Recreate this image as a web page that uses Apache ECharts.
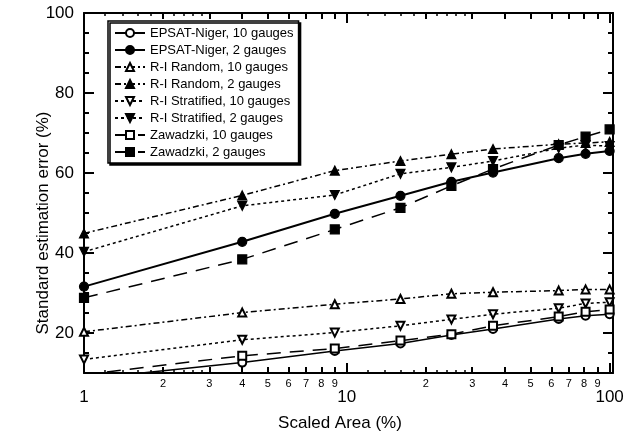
<!DOCTYPE html>
<html>
<head>
<meta charset="utf-8">
<script src="https://cdn.jsdelivr.net/npm/echarts@6/dist/echarts.min.js"></script>
<style>
  html, body { margin: 0; padding: 0; background: #fff; }
  #chart { width: 632px; height: 433px; }
</style>
</head>
<body>
<div id="chart"></div>
<script>
// scaled area (%) of every sample
var areas = [1, 4, 9, 16, 25, 36, 64, 81, 100]

// standard estimation error (%) per method
var epsat10 = [8.5, 12.6, 15.5, 17.4, 19.5, 21.0, 23.5, 24.3, 24.7]
var epsat2 = [31.6, 42.8, 49.8, 54.3, 57.8, 60.1, 63.7, 64.8, 65.5]
var random10 = [20.3, 25.1, 27.2, 28.5, 29.8, 30.2, 30.6, 30.9, 30.9]
var random2 = [44.9, 54.4, 60.6, 63.0, 64.7, 66.0, 67.2, 67.5, 67.8]
var strat10 = [13.4, 18.3, 20.1, 21.8, 23.4, 24.7, 26.2, 27.4, 27.7]
var strat2 = [40.3, 51.8, 54.5, 59.8, 61.4, 63.0, 66.2, 67.0, 66.7]
var zaw10 = [9.6, 14.3, 16.1, 18.1, 19.7, 21.8, 24.1, 25.3, 25.9]
var zaw2 = [28.8, 38.4, 45.9, 51.3, 56.8, 61.0, 67.0, 69.1, 70.9]

// ticks
var xMajorTicks = [1, 10, 100]
var xDigitTicks = [2, 3, 4, 5, 6, 7, 8, 9, 20, 30, 40, 50, 60, 70, 80, 90]
var xTinyTicks = [1.2, 1.4, 1.6, 1.8, 2.2, 2.4, 2.6, 2.8, 12, 14, 16, 18, 22, 24, 26, 28]
var yMajorTicks = [20, 40, 60, 80, 100]
var yMinorTicks = [15, 25, 30, 35, 45, 50, 55, 65, 70, 75, 85, 90, 95]

var FONT = '"Liberation Sans", Arial, Helvetica, sans-serif'

function pairs(ys) {
  return areas.map(function (a, i) { return [a, ys[i]] })
}

function line(name, ys, symbol, rotate, dash, size, width) {
  return {
    name: name,
    type: 'line',
    data: pairs(ys),
    symbol: symbol,
    symbolRotate: rotate,
    symbolSize: size,
    clip: true,
    xAxisIndex: 0,
    yAxisIndex: 0,
    lineStyle: { color: '#000', width: width, type: dash },
    itemStyle: { color: '#000', borderColor: '#000', borderWidth: 1.2 },
    emphasis: { disabled: true },
    animation: false
  }
}

function xAxisOf(position, ticks, len, tickWidth, showLine, label) {
  return {
    type: 'log',
    logBase: 10,
    min: 1,
    max: 103,
    position: position,
    axisLine: { show: showLine, onZero: false, lineStyle: { color: '#000', width: 2 } },
    axisTick: { show: true, inside: true, length: len, customValues: ticks, lineStyle: { color: '#000', width: tickWidth } },
    axisLabel: label || { show: false },
    minorTick: { show: false },
    splitLine: { show: false }
  }
}

function yAxisOf(position, ticks, len, tickWidth, showLine, label) {
  return {
    type: 'value',
    min: 10,
    max: 100,
    interval: 5,
    position: position,
    axisLine: { show: showLine, onZero: false, lineStyle: { color: '#000', width: 2 } },
    axisTick: { show: true, inside: true, length: len, customValues: ticks, lineStyle: { color: '#000', width: tickWidth } },
    axisLabel: label || { show: false },
    splitLine: { show: false }
  }
}

var chart = echarts.init(document.getElementById('chart'))

chart.setOption({
  backgroundColor: '#fff',
  animation: false,
  grid: { left: 84, top: 13, right: 19, bottom: 60, outerBoundsMode: 'none' },
  xAxis: [
    xAxisOf('bottom', xMajorTicks, 10, 2, true, {
      show: true, customValues: xMajorTicks, margin: 16,
      fontSize: 17, fontFamily: FONT, color: '#000'
    }),
    xAxisOf('bottom', xDigitTicks, 6, 2, false, {
      show: true, customValues: xDigitTicks, margin: 5,
      fontSize: 11, fontFamily: FONT, color: '#000',
      formatter: function (v) {
        var p = Math.pow(10, Math.floor(Math.log10(v) + 1e-9))
        return String(Math.round(v / p))
      }
    }),
    xAxisOf('bottom', xTinyTicks, 3, 1.5, false),
    xAxisOf('top', xMajorTicks, 10, 2, true),
    xAxisOf('top', xDigitTicks, 6, 2, false),
    xAxisOf('top', xTinyTicks, 3, 1.5, false)
  ],
  yAxis: [
    yAxisOf('left', yMajorTicks, 10, 2, true, {
      show: true, customValues: yMajorTicks, margin: 10,
      fontSize: 17, fontFamily: FONT, color: '#000'
    }),
    yAxisOf('left', yMinorTicks, 5, 2, false),
    yAxisOf('right', yMajorTicks, 10, 2, true),
    yAxisOf('right', yMinorTicks, 5, 2, false)
  ],
  legend: {
    orient: 'vertical',
    left: 108,
    top: 21,
    padding: [5, 5, 4, 6],
    itemWidth: 30,
    itemHeight: 10,
    itemGap: 3,
    backgroundColor: '#fff',
    borderColor: '#000',
    borderWidth: 1.5,
    borderRadius: 0,
    shadowColor: '#000',
    shadowOffsetX: 2,
    shadowOffsetY: 2,
    shadowBlur: 0,
    textStyle: { fontFamily: FONT, fontSize: 13, color: '#000', lineHeight: 14 },
    selectedMode: false
  },
  graphic: [
    {
      type: 'text', x: 340, y: 423,
      style: { text: 'Scaled Area (%)', font: '17px ' + FONT, fill: '#000', align: 'center', verticalAlign: 'middle' }
    },
    {
      type: 'text', x: 43, y: 223, rotation: Math.PI / 2,
      style: { text: 'Standard estimation error (%)', font: '17px ' + FONT, fill: '#000', align: 'center', verticalAlign: 'middle' }
    }
  ],
  series: [
    line('EPSAT-Niger, 10 gauges', epsat10, 'emptyCircle', 0, 'solid', 8, 1.5),
    line('EPSAT-Niger, 2 gauges', epsat2, 'circle', 0, 'solid', 9, 2),
    line('R-I Random, 10 gauges', random10, 'emptyTriangle', 0, [6, 3, 2, 3], 8, 1.5),
    line('R-I Random, 2 gauges', random2, 'triangle', 0, [6, 3, 2, 3], 9, 1.5),
    line('R-I Stratified, 10 gauges', strat10, 'emptyTriangle', 180, [3, 3], 8, 1.5),
    line('R-I Stratified, 2 gauges', strat2, 'triangle', 180, [3, 3], 9, 1.5),
    line('Zawadzki, 10 gauges', zaw10, 'emptyRect', 0, [14, 9], 8, 1.5),
    line('Zawadzki, 2 gauges', zaw2, 'rect', 0, [14, 9], 9, 1.5)
  ]
})
</script>
</body>
</html>
